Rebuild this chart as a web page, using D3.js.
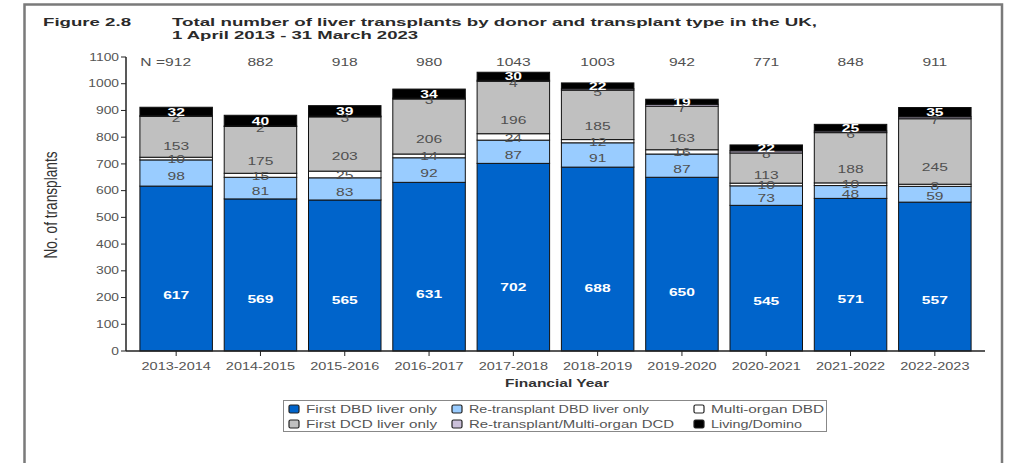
<!DOCTYPE html>
<html>
<head>
<meta charset="utf-8">
<script src="https://cdn.jsdelivr.net/npm/d3@7"></script>
<style>
  html, body { margin: 0; padding: 0; background: #fff; }
  svg { display: block; font-family: "Liberation Sans", Arial, sans-serif; }
</style>
</head>
<body>
<svg id="chart" width="1010" height="463"></svg>
<script>
// Financial years shown on the x axis
const years = ["2013-2014", "2014-2015", "2015-2016", "2016-2017", "2017-2018",
               "2018-2019", "2019-2020", "2020-2021", "2021-2022", "2022-2023"];

// Transplants per donor / transplant type, stacked bottom to top
const firstDBD      = [617, 569, 565, 631, 702, 688, 650, 545, 571, 557];
const reDBD         = [98, 81, 83, 92, 87, 91, 87, 73, 48, 59];
const multiDBD      = [10, 15, 25, 14, 24, 12, 16, 10, 10, 8];
const firstDCD      = [153, 175, 203, 206, 196, 185, 163, 113, 188, 245];
const reMultiDCD    = [2, 2, 3, 3, 4, 5, 7, 8, 6, 7];
const livingDomino  = [32, 40, 39, 34, 30, 22, 19, 22, 25, 35];

// Totals printed above each bar
const totals = [912, 882, 918, 980, 1043, 1003, 942, 771, 848, 911];

const yTicks = [0, 100, 200, 300, 400, 500, 600, 700, 800, 900, 1000, 1100];

const seriesNames = ["First DBD liver only", "Re-transplant DBD liver only", "Multi-organ DBD",
                     "First DCD liver only", "Re-transplant/Multi-organ DCD", "Living/Domino"];
const seriesValues = [firstDBD, reDBD, multiDBD, firstDCD, reMultiDCD, livingDomino];

const fills = ["#0064cb", "#99ccff", "#ffffff", "#c0c0c0", "#cbc0da", "#000000"];
// where the value label sits inside its segment (fraction of height from the base)
const labelPos = [0.34, 0.37, 0.4, 0.27, -0.6, 0.5];
const labelFill = ["#ffffff", "#505050", "#505050", "#505050", "#505050", "#ffffff"];
const labelWeight = ["bold", "normal", "normal", "normal", "normal", "bold"];

const SX = 1.42; // horizontal glyph stretch used for all chart text

const svg = d3.select("#chart");

// outer frame
svg.append("rect")
  .attr("x", 24.5).attr("y", 4.5).attr("width", 977.5).attr("height", 480)
  .attr("fill", "none").attr("stroke", "#7a7a7a").attr("stroke-width", 2.5);

// helper: text stretched horizontally around its anchor
function stext(parent, x, y, str, opts) {
  const t = parent.append("text")
    .attr("transform", `translate(${x},${y}) scale(${opts.sx || SX},1)`)
    .attr("text-anchor", opts.anchor || "middle")
    .attr("font-size", opts.size || 11)
    .attr("font-weight", opts.weight || "normal")
    .attr("fill", opts.fill || "#505050")
    .text(str);
  if (opts.len) t.attr("textLength", opts.len / (opts.sx || SX)).attr("lengthAdjust", "spacingAndGlyphs");
  return t;
}

// title block
stext(svg, 43, 25.5, "Figure 2.8", { anchor: "start", size: 11.5, weight: "bold", fill: "#2a2a2a", len: 88 });
stext(svg, 172, 25.5, "Total number of liver transplants by donor and transplant type in the UK,",
      { anchor: "start", size: 11.5, weight: "bold", fill: "#2a2a2a", len: 645 });
stext(svg, 172, 39, "1 April 2013 - 31 March 2023",
      { anchor: "start", size: 11.5, weight: "bold", fill: "#2a2a2a", len: 246 });

// scales
const x = d3.scaleBand().domain(years).range([126, 985]).paddingInner(0.14).paddingOuter(0.165);
const y = d3.scaleLinear().domain([0, 1100]).range([351, 57]);

// stacked layout
const rows = years.map((yr, i) => {
  const r = { year: yr };
  seriesNames.forEach((s, k) => r[s] = seriesValues[k][i]);
  return r;
});
const stacked = d3.stack().keys(seriesNames)(rows);

const barG = svg.append("g");
stacked.forEach((layer, k) => {
  barG.append("g").selectAll("rect").data(layer).join("rect")
    .attr("x", d => x(d.data.year))
    .attr("y", d => y(d[1]))
    .attr("width", x.bandwidth())
    .attr("height", d => y(d[0]) - y(d[1]))
    .attr("fill", fills[k])
    .attr("stroke", "#111")
    .attr("stroke-width", 1);
});

// value labels inside segments
const labG = svg.append("g");
stacked.forEach((layer, k) => {
  layer.forEach(d => {
    const cx = x(d.data.year) + x.bandwidth() / 2;
    const y0 = y(d[0]), y1 = y(d[1]);
    let cy;
    if (labelPos[k] < 0) cy = y0 + 1.5;           // tiny segment: sit just under it
    else cy = y0 - (y0 - y1) * labelPos[k];
    stext(labG, cx, cy + 4, d.data[seriesNames[k]],
          { size: 11, weight: labelWeight[k], fill: labelFill[k] });
  });
});

// totals above bars
totals.forEach((n, i) => {
  const cx = x(years[i]) + x.bandwidth() / 2;
  if (i === 0) stext(svg, cx + 15, 66, "N =" + n, { anchor: "end", size: 11 });
  else stext(svg, cx, 66, n, { size: 11 });
});

// y axis
const yAxisG = svg.append("g").attr("transform", "translate(126,0)");
yAxisG.append("line").attr("x1", 0).attr("x2", 0).attr("y1", y(1100)).attr("y2", y(0))
  .attr("stroke", "#222").attr("stroke-width", 1.5);
yTicks.forEach(v => {
  yAxisG.append("line").attr("x1", -5).attr("x2", 0).attr("y1", y(v)).attr("y2", y(v))
    .attr("stroke", "#222").attr("stroke-width", 1);
  stext(yAxisG, -7, y(v) + 3.6, v, { anchor: "end", size: 10, sx: 1.38, fill: "#555" });
});

// x axis
const xAxisG = svg.append("g").attr("transform", "translate(0,351)");
xAxisG.append("line").attr("x1", 126).attr("x2", 985).attr("y1", 0).attr("y2", 0)
  .attr("stroke", "#222").attr("stroke-width", 1.5);
years.forEach(yr => {
  const cx = x(yr) + x.bandwidth() / 2;
  xAxisG.append("line").attr("x1", cx).attr("x2", cx).attr("y1", 0).attr("y2", 5)
    .attr("stroke", "#222").attr("stroke-width", 1);
  stext(xAxisG, cx, 19, yr, { size: 10.5, sx: 1.38, fill: "#555" });
});

// axis titles
stext(svg, 557, 387, "Financial Year", { size: 10.5, weight: "bold", fill: "#333", len: 104 });
svg.append("text")
  .attr("transform", "translate(57,205) rotate(-90) scale(1,1.4)")
  .attr("text-anchor", "middle")
  .attr("font-size", 13)
  .attr("fill", "#333")
  .attr("textLength", 107).attr("lengthAdjust", "spacingAndGlyphs")
  .text("No. of transplants");

// legend
const lg = svg.append("g");
lg.append("rect").attr("x", 283.5).attr("y", 400.5).attr("width", 543).attr("height", 31)
  .attr("fill", "#fff").attr("stroke", "#888").attr("stroke-width", 1);
const colX = [289, 452, 694];
const rowY = [409, 424];
const legLen = [131, 180, 113, 131, 205, 91];
seriesNames.forEach((name, k) => {
  const col = k % 3, row = Math.floor(k / 3);
  const sx = colX[col], sy = rowY[row];
  lg.append("rect").attr("x", sx).attr("y", sy - 4).attr("width", 10).attr("height", 8)
    .attr("rx", 1.5).attr("fill", fills[k]).attr("stroke", "#222").attr("stroke-width", 1.2);
  stext(lg, sx + 17, sy + 3.5, name, { anchor: "start", size: 10, len: legLen[k], fill: "#555" });
});
</script>
</body>
</html>
